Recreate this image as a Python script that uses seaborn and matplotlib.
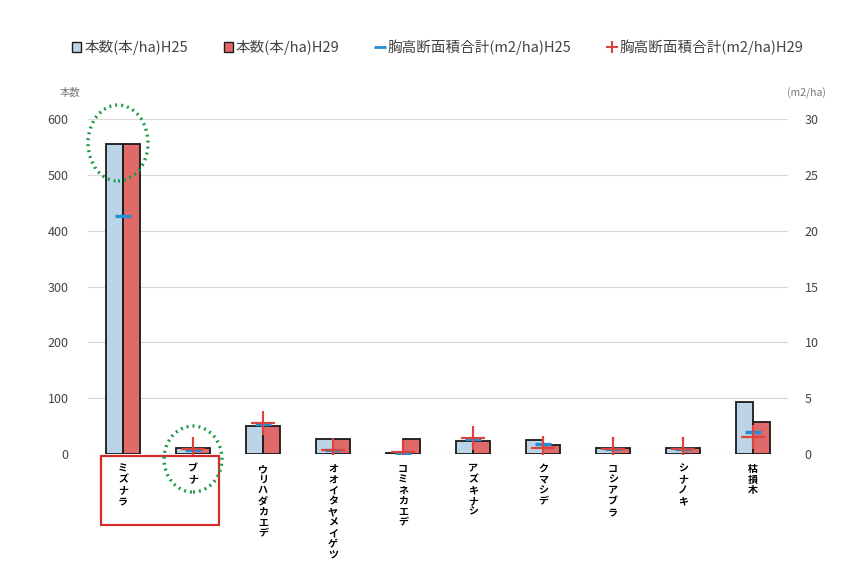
import numpy as np
import pandas as pd
import seaborn as sns
import matplotlib
matplotlib.use("Agg")
import matplotlib.pyplot as plt
from matplotlib.patches import Patch, Rectangle, Ellipse
from matplotlib.lines import Line2D

# Tree species
species = ["ミズナラ", "ブナ", "ウリハダカエデ", "オオイタヤメイゲツ", "コミネカエデ",
           "アズキナシ", "クマシデ", "コシアブラ", "シナノキ", "枯損木"]
# Stem count (stems/ha)
count_h25 = [555, 11, 50, 27, 1, 23, 25, 11, 11, 93]
count_h29 = [555, 11, 51, 27, 27, 23, 16, 11, 11, 58]
# Basal area total (m2/ha)
basal_h25 = [21.3, 0.4, 2.65, 0.35, 0.1, 1.3, 0.87, 0.45, 0.45, 2.0]
basal_h29 = [np.nan, 0.42, 2.75, 0.36, 0.15, 1.4, 0.57, 0.45, 0.45, 1.5]

series_labels = ["本数(本/ha)H25", "本数(本/ha)H29",
                 "胸高断面積合計(m2/ha)H25", "胸高断面積合計(m2/ha)H29"]

sns.set_theme(style="white")
plt.rcParams["font.family"] = ["Noto Sans CJK JP", "DejaVu Sans"]

df = pd.DataFrame({
    "species": species * 2,
    "count": count_h25 + count_h29,
    "year": [series_labels[0]] * len(species) + [series_labels[1]] * len(species),
})

W, H = 850, 572
fig = plt.figure(figsize=(W / 100, H / 100), dpi=100)
fig.patch.set_facecolor("white")
ax = fig.add_axes([88 / W, 1 - 454 / H, 700 / W, 335 / H])

blue = "#bcd5e6"
red = "#e06a6a"
sns.barplot(data=df, x="species", y="count", hue="year", order=species,
            palette=[blue, red], width=0.48, gap=0, edgecolor="#1a1a1a",
            linewidth=1.3, saturation=1, legend=False, ax=ax)

ax.set_xlim(-0.5, len(species) - 0.5)
ax.set_ylim(0, 600)
ax.set_yticks(range(0, 601, 100))
ax.set_xlabel("")
ax.set_ylabel("")
for s in ax.spines.values():
    s.set_visible(False)
ax.grid(axis="y", color="#d9d9d9", linewidth=0.8)
ax.set_axisbelow(True)
ax.tick_params(axis="y", length=0, labelsize=9, labelcolor="#444444", pad=14)
ax.set_xticks(range(len(species)))
ax.set_xticklabels(["\n".join(s) for s in species], fontsize=7.2, color="black",
                   fontweight="bold", linespacing=1.1, va="top")
ax.tick_params(axis="x", length=0, pad=7)

ax2 = ax.twinx()
ax2.set_ylim(0, 30)
ax2.set_yticks(range(0, 31, 5))
for s in ax2.spines.values():
    s.set_visible(False)
ax2.tick_params(axis="y", length=0, labelsize=9, labelcolor="#444444", pad=12)
xpos = np.arange(len(species))
sns.scatterplot(x=xpos, y=basal_h25, marker="_", s=130, color="#1f8fd6",
                linewidth=2.4, ax=ax2, legend=False, zorder=5)
sns.scatterplot(x=xpos, y=basal_h29, marker="+", s=300, color="#d9443f",
                linewidth=1.6, ax=ax2, legend=False, zorder=6)
ax2.set_xlim(-0.5, len(species) - 0.5)

fig.text(70 / W, 1 - 93 / H, "本数", fontsize=7.5, color="#777777", ha="center", va="center")
fig.text(806 / W, 1 - 93 / H, "(m2/ha)", fontsize=7.5, color="#777777", ha="center", va="center")

handles = [
    Patch(facecolor=blue, edgecolor="#1a1a1a", linewidth=1.0),
    Patch(facecolor=red, edgecolor="#1a1a1a", linewidth=1.0),
    Line2D([], [], marker="_", color="#1f8fd6", linestyle="none", markersize=8, markeredgewidth=2),
    Line2D([], [], marker="+", color="#d9443f", linestyle="none", markersize=8, markeredgewidth=1.5),
]
fig.legend(handles, series_labels, loc="center", bbox_to_anchor=(438 / W, 1 - 47 / H),
           ncol=4, frameon=False, fontsize=10.5, labelcolor="#444444",
           handlelength=0.6, handletextpad=0.2, columnspacing=2.5)

# Highlight marks
fig.add_artist(Rectangle((101 / W, 1 - 525 / H), 118 / W, 69 / H, transform=fig.transFigure,
                         fill=False, edgecolor="#d42a2a", linewidth=1.6, zorder=10))
for cx, cy, rx, ry in [(118, 143, 30, 38), (193, 459, 29, 33)]:
    fig.add_artist(Ellipse((cx / W, 1 - cy / H), 2 * rx / W, 2 * ry / H,
                           transform=fig.transFigure, fill=False, edgecolor="#1e9a4a",
                           linewidth=2.4, linestyle=(0, (0.6, 1.2)), zorder=10))

fig.savefig("out.png", dpi=100)
